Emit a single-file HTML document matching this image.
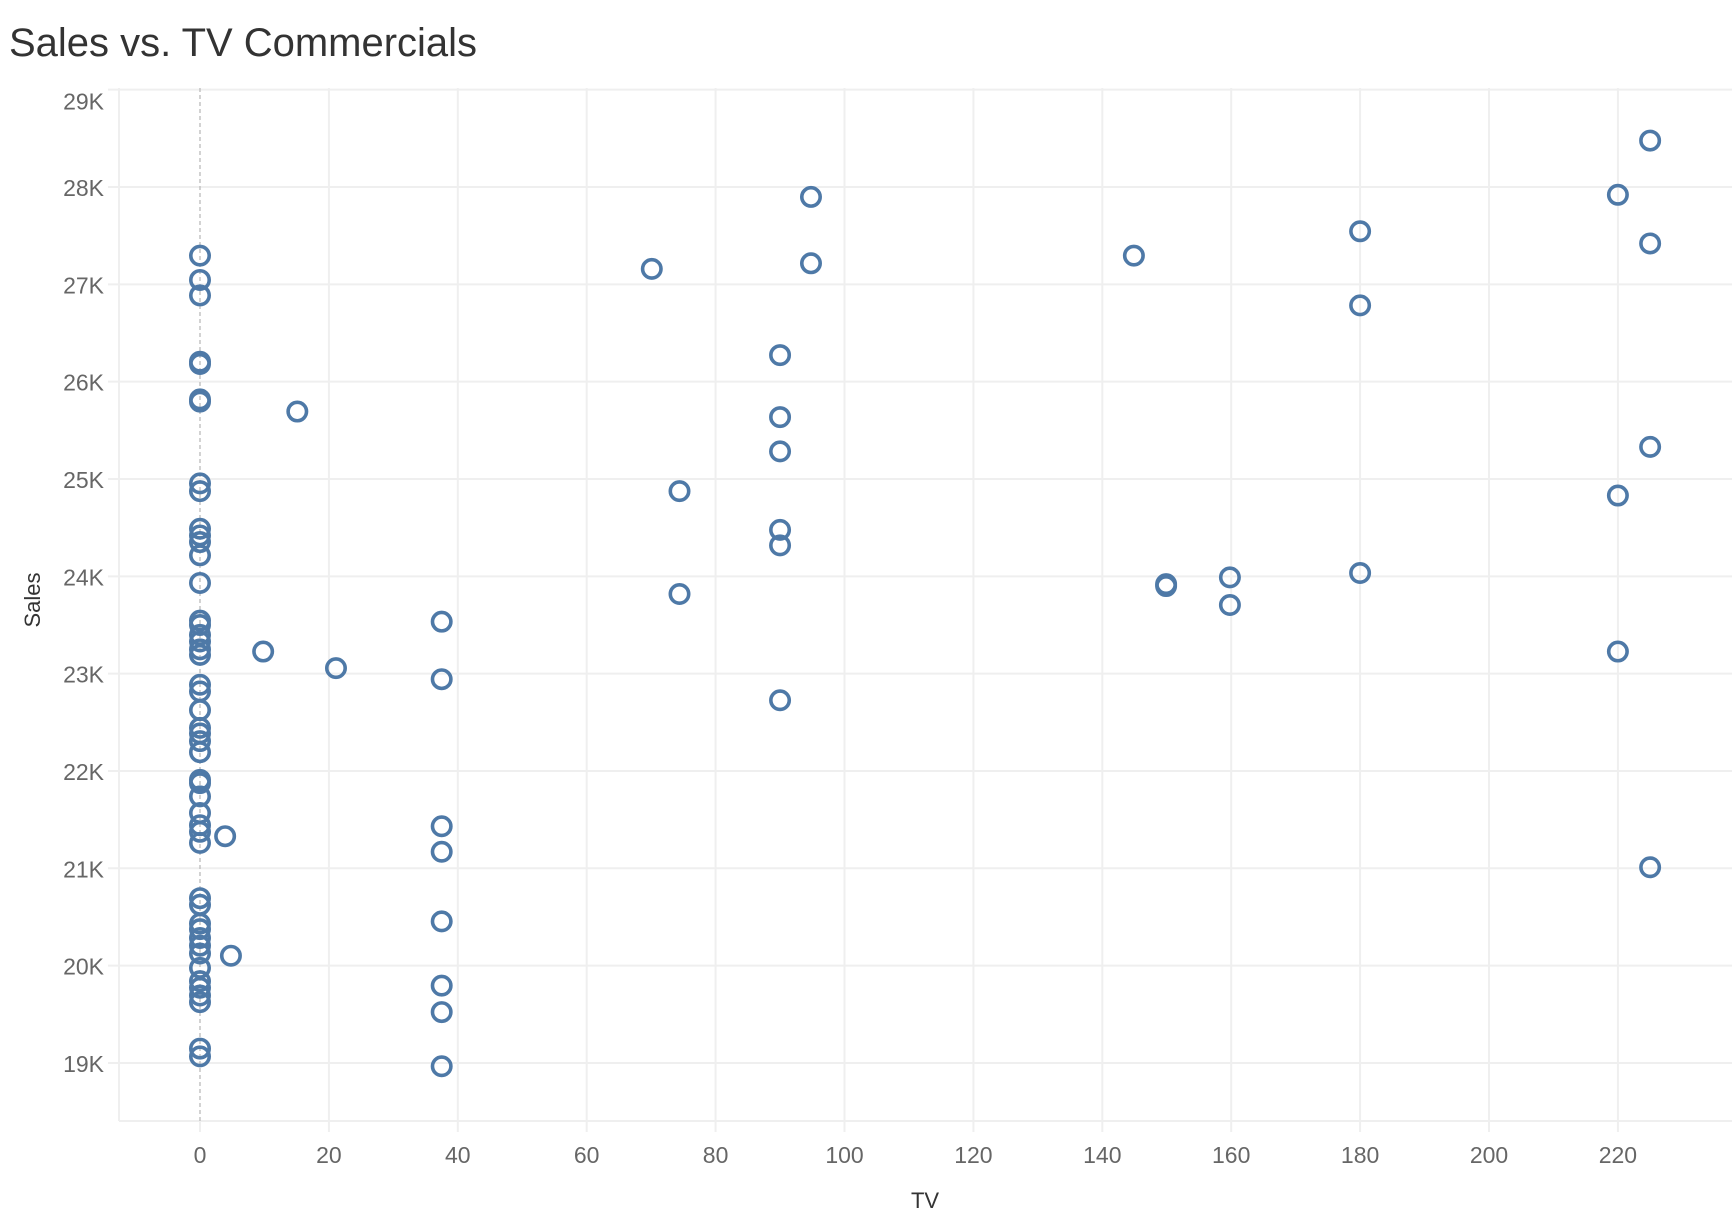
<!DOCTYPE html>
<html><head><meta charset="utf-8"><style>
html,body{margin:0;padding:0;background:#fff;}
svg{display:block;font-family:"Liberation Sans",sans-serif;}
</style></head><body>
<svg id="chart" width="1732" height="1232" viewBox="0 0 1732 1232" xmlns="http://www.w3.org/2000/svg">
<text x="9" y="56" font-size="40" fill="#333" textLength="468" lengthAdjust="spacingAndGlyphs">Sales vs. TV Commercials</text>
<g id="grid"></g>
<g id="axes"></g>
<g id="marks"></g>
<text transform="translate(40,600) rotate(-90)" text-anchor="middle" font-size="22" fill="#333">Sales</text>
<text x="925" y="1208" text-anchor="middle" font-size="22" fill="#333">TV</text>
</svg>
<script>
const xTicks = [0,20,40,60,80,100,120,140,160,180,200,220];
const yTicks = [19,20,21,22,23,24,25,26,27,28,29];
const yTickLabels = ["19K","20K","21K","22K","23K","24K","25K","26K","27K","28K","29K"];
const tvValues = [
0,0,0,0,0,0,0,0,0,0,0,0,0,0,0,0,0,0,0,0,0,0,0,0,0,0,0,0,0,0,0,0,0,0,0,0,0,0,0,0,0,0,0,0,0,0,0,0,
15.1,9.8,21.1,3.9,4.8,
37.5,37.5,37.5,37.5,37.5,37.5,37.5,37.5,
70.1,74.4,74.4,94.8,94.8,
90,90,90,90,90,90,
144.9,149.9,149.9,159.8,159.8,
180,180,180,220,220,220,225,225,225,225];
const salesK = [
27.295,27.045,26.886,26.205,26.182,25.818,25.795,24.955,24.875,24.489,24.42,24.352,24.216,23.932,23.545,23.5,23.398,23.33,23.25,23.193,22.886,22.818,22.625,22.443,22.386,22.307,22.193,21.909,21.875,21.739,21.568,21.443,21.375,21.261,20.693,20.625,20.432,20.375,20.284,20.205,20.125,19.977,19.841,19.773,19.693,19.625,19.148,19.068,
25.693,23.227,23.057,21.33,20.102,
23.534,22.943,21.432,21.17,20.455,19.795,19.523,18.966,
27.159,24.875,23.818,27.898,27.216,
26.273,25.636,25.284,24.477,24.318,22.727,
27.295,23.92,23.9,23.989,23.705,
27.545,26.784,24.034,27.92,24.83,23.227,28.477,27.42,25.33,21.011];

const NS="http://www.w3.org/2000/svg";
const L=119,T=88,B=1121,R=1732;
function xs(v){return 200+6.445*v;}
function ys(v){return 187+(28-v)*97.33;}
function mk(tag,attrs,parent){const e=document.createElementNS(NS,tag);for(const k in attrs)e.setAttribute(k,attrs[k]);parent.appendChild(e);return e;}
const grid=document.getElementById('grid'),axes=document.getElementById('axes'),marks=document.getElementById('marks');
yTicks.forEach((t,i)=>{
  const y=ys(t);
  const ln=mk('line',{x1:108,x2:R,y1:y,y2:y,stroke:'#efefef','stroke-width':2},grid);
  
  
  const lab=mk('text',{x:104,y:(i===yTicks.length-1?y+20:y+9),'text-anchor':'end','font-size':23,fill:'#666'},axes);
  lab.textContent=yTickLabels[i];
  
  
});
xTicks.forEach(t=>{
  const x=xs(t);
  if(t!==0){
    const ln=mk('line',{x1:x,x2:x,y1:T,y2:1132,stroke:'#efefef','stroke-width':2},grid);
    
    
  } else {
    const tk=mk('line',{x1:x,x2:x,y1:B,y2:1132,stroke:'#efefef','stroke-width':2},grid);
    
    
  }
  const lab=mk('text',{x:x,y:1163,'text-anchor':'middle','font-size':23,fill:'#666'},axes);
  lab.textContent=String(t);
  
  
});
const lb=mk('line',{x1:L,x2:L,y1:T,y2:B,stroke:'#efefef','stroke-width':2},grid);


const bb=mk('line',{x1:L,x2:R,y1:B,y2:B,stroke:'#efefef','stroke-width':2},grid);


const zl=mk('line',{x1:xs(0),x2:xs(0),y1:T,y2:B,stroke:'#bbb','stroke-width':1.3,'stroke-dasharray':'4,3'},grid);


tvValues.forEach((v,i)=>{
  const c=mk('circle',{cx:xs(v),cy:ys(salesK[i]),r:9.2,fill:'none',stroke:'#4e79a7','stroke-width':3.6},marks);
  
  
});
</script>
</body></html>
